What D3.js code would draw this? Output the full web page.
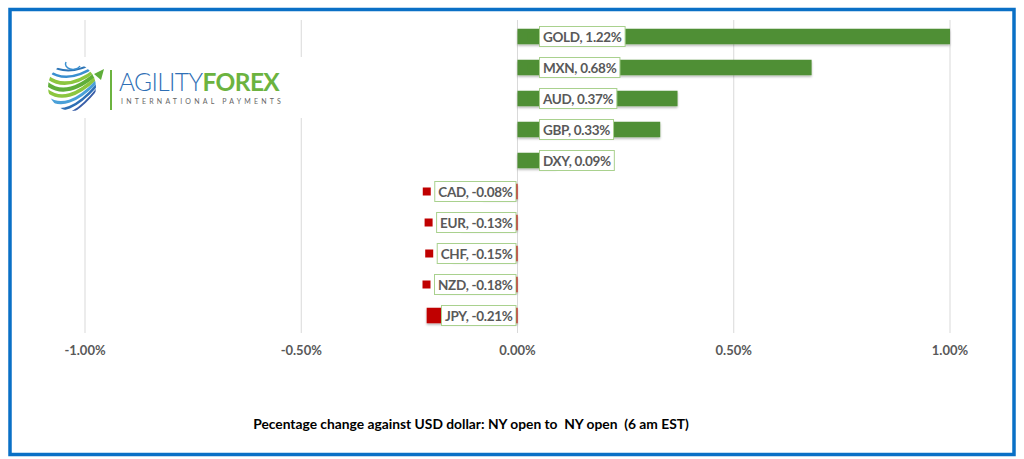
<!DOCTYPE html>
<html>
<head>
<meta charset="utf-8">
<script src="https://cdn.jsdelivr.net/npm/d3@7"></script>
<style>
  body { margin: 0; background: #fff; }
  svg text { font-family: Lato, "Liberation Sans", sans-serif; }
</style>
</head>
<body>
<div id="chart"></div>
<script>
// Chart data (percent change vs USD)
const currencies = ["GOLD", "MXN", "AUD", "GBP", "DXY", "CAD", "EUR", "CHF", "NZD", "JPY"];
const changes = [1.22, 0.68, 0.37, 0.33, 0.09, -0.08, -0.13, -0.15, -0.18, -0.21];
const xTicks = [-1, -0.5, 0, 0.5, 1];
const titleText = "Pecentage change against USD dollar: NY open to  NY open  (6 am EST)";

const width = 1024, height = 459;
const green = "#4f8f34", red = "#c00000";

let data = currencies.map((c, i) => ({ name: c, value: changes[i] }));
let pct = v => v.toFixed(2) + "%";

let svg = d3.select("#chart").append("svg")
    .attr("width", width)
    .attr("height", height);

// drop shadow for bars
let defs = svg.append("defs");
let shadow = defs.append("filter").attr("id", "shadow")
    .attr("x", "-5%").attr("y", "-20%").attr("width", "110%").attr("height", "160%");
shadow.append("feDropShadow").attr("dx", 0).attr("dy", 1.5).attr("stdDeviation", 1)
    .attr("flood-color", "#000").attr("flood-opacity", 0.3);

// Scales
let x = d3.scaleLinear().domain([-1, 1]).range([85, 950]).clamp(true);
let y = d3.scaleBand().domain(currencies).range([21, 331])
    .paddingInner(0.5).paddingOuter(0.25);

// Gridlines
svg.append("g").selectAll("line").data(xTicks).enter().append("line")
    .attr("x1", d => x(d)).attr("x2", d => x(d))
    .attr("y1", 20).attr("y2", 333)
    .attr("stroke", "#d9d9d9").attr("stroke-width", 1);

// Tick labels
svg.append("g").selectAll("text").data(xTicks).enter().append("text")
    .attr("x", d => x(d)).attr("y", 355)
    .attr("text-anchor", "middle")
    .attr("fill", "#595959")
    .style("font-size", "13px").style("font-weight", "bold")
    .text(d => pct(d));

// Bars
svg.append("g").selectAll("rect").data(data).enter().append("rect")
    .attr("x", d => x(Math.min(0, d.value)))
    .attr("y", d => y(d.name))
    .attr("width", d => Math.abs(x(d.value) - x(0)))
    .attr("height", y.bandwidth())
    .attr("fill", d => d.value >= 0 ? green : red)
    .attr("filter", "url(#shadow)");

// Data labels with boxes
let labels = svg.append("g").selectAll("g").data(data).enter().append("g");
labels.each(function(d) {
    let g = d3.select(this);
    let cy = y(d.name) + y.bandwidth() / 2;
    let txt = g.append("text")
        .attr("y", cy + 5)
        .attr("fill", "#595959")
        .style("font-size", "13.5px").style("font-weight", "bold")
        .style("letter-spacing", "-0.3px")
        .text(`${d.name}, ${pct(d.value)}`);
    let w = txt.node().getComputedTextLength() + 7;
    let left = d.value >= 0 ? x(0) + 22 : x(0) - 1.5 - w;
    txt.attr("x", left + 3.5);
    g.insert("rect", "text")
        .attr("x", left).attr("y", cy - 10)
        .attr("width", w).attr("height", 20)
        .attr("fill", "#fff").attr("stroke", "#a9d18e").attr("stroke-width", 1);
    // legend key
    g.append("rect")
        .attr("x", left - 12).attr("y", cy - 4)
        .attr("width", 8).attr("height", 8)
        .attr("fill", d.value >= 0 ? green : red);
});

// Axis title
svg.append("text")
    .attr("x", 471).attr("y", 429)
    .attr("text-anchor", "middle")
    .attr("fill", "#000")
    .style("font-size", "13.8px").style("font-weight", "bold")
    .style("white-space", "pre")
    .text(titleText);

// Logo
let logo = svg.append("g");
logo.append("rect").attr("x", 40).attr("y", 57).attr("width", 268).attr("height", 61).attr("fill", "#fff");
defs.append("clipPath").attr("id", "globe")
    .append("circle").attr("cx", 72).attr("cy", 87).attr("r", 24);
let globe = logo.append("g").attr("clip-path", "url(#globe)");
const stripes = [
    { y0: 60, c: "#2e75b6", w: 2 }, { y0: 67, c: "#3a8fd0", w: 2.5 },
    { y0: 74, c: "#8cc63f", w: 3.5 }, { y0: 81, c: "#5fae3a", w: 4 },
    { y0: 88, c: "#8cc63f", w: 3.5 }, { y0: 95, c: "#4aa0d8", w: 3 },
    { y0: 102, c: "#2e6fb5", w: 2.5 }, { y0: 109, c: "#3a5fa8", w: 2 }
];
globe.selectAll("path").data(stripes).enter().append("path")
    .attr("d", d => `M44,${d.y0} Q66,${d.y0 + 22} 102,${d.y0 - 2 - (d.y0 - 60) * 0.5}`)
    .attr("fill", "none").attr("stroke", d => d.c).attr("stroke-width", d => d.w);
logo.append("path").attr("d", "M66,62 A7,5 0 1 0 80,66").attr("fill", "none")
    .attr("stroke", "#3a8fd0").attr("stroke-width", 1.5);
logo.append("path").attr("d", "M94,74 L104,69 L101,80 Z").attr("fill", "#5fae3a");
logo.append("line").attr("x1", 111).attr("x2", 111).attr("y1", 70).attr("y2", 110)
    .attr("stroke", "#6cb33f").attr("stroke-width", 2);
let brand = logo.append("text").attr("x", 119).attr("y", 91)
    .style("font-size", "24.5px").style("letter-spacing", "-0.6px");
brand.append("tspan").attr("fill", "#2f6fb5").style("font-weight", 300).text("AGILITY");
brand.append("tspan").attr("fill", "#6cb33f").style("font-weight", "bold").text("FOREX");
logo.append("text").attr("x", 121).attr("y", 104)
    .attr("fill", "#666").style("font-size", "7px").style("letter-spacing", "3.2px")
    .text("INTERNATIONAL PAYMENTS");

// Outer border
svg.append("rect")
    .attr("x", 10).attr("y", 9.5).attr("width", 1004).attr("height", 445)
    .attr("fill", "none").attr("stroke", "#0a70c6").attr("stroke-width", 3.5);
</script>
</body>
</html>
